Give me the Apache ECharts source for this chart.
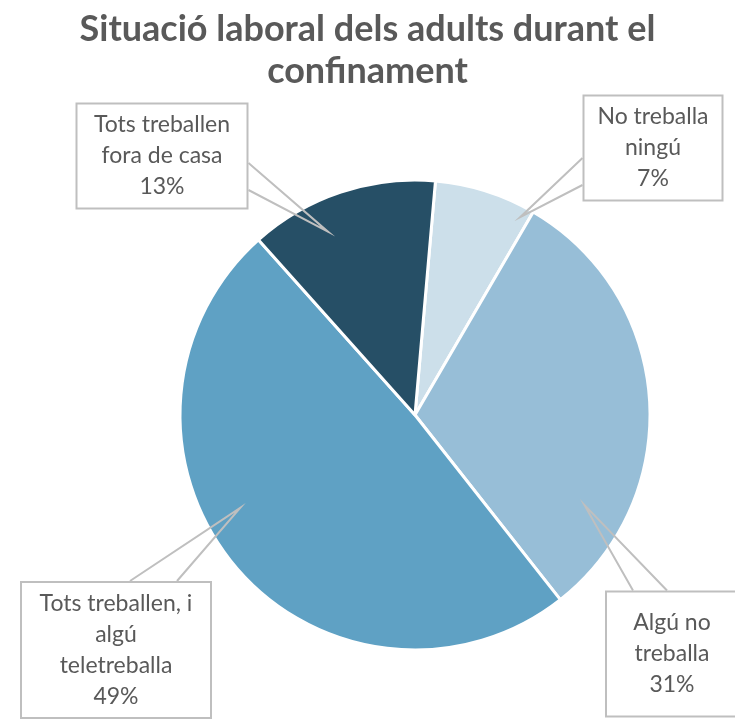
<!DOCTYPE html>
<html>
<head>
<meta charset="utf-8">
<script src="https://cdn.jsdelivr.net/npm/echarts@6/dist/echarts.min.js"></script>
<style>
  html, body { margin: 0; padding: 0; background: #fff; }
  #chart { width: 735px; height: 722px; }
</style>
</head>
<body>
<div id="chart"></div>
<script>
// data, clockwise from the top
const categories = ['No treballa\nningú', 'Algú no\ntreballa', 'Tots treballen, i\nalgú\nteletreballa', 'Tots treballen\nfora de casa'];
const values = [7, 31, 49, 13];
const colors = ['#CCDFEA', '#97BED7', '#5FA1C4', '#264F66'];

// callout boxes: centre, inner width, padding; wedge: side of the box, offsets along it, tip (angle from top, radius)
const boxes = [
  { x: 653, y: 148, w: 117, pad: [5, 10], side: 'left', a: 10, b: 37, ang: 28, r: 224 },
  { x: 672, y: 654, w: 110, pad: [22, 10, 8, 10], side: 'top', a: -39, b: -5, ang: 118, r: 192 },
  { x: 116, y: 650, w: 168, pad: [5, 10], side: 'top', a: 14, b: 61, ang: 242, r: 198 },
  { x: 162, y: 156, w: 149, pad: [5, 10], side: 'right', a: 7, b: 34, ang: 334.6, r: 203 }
];

const CENTER = [415, 415];
const START = 85;

function wedge(b, rect) {
  const hw = rect.width / 2, hh = rect.height / 2;
  let p1, p2;
  if (b.side === 'left') { p1 = [b.x - hw, b.y + b.a]; p2 = [b.x - hw, b.y + b.b]; }
  else if (b.side === 'right') { p1 = [b.x + hw, b.y + b.a]; p2 = [b.x + hw, b.y + b.b]; }
  else { p1 = [b.x + b.a, b.y - hh]; p2 = [b.x + b.b, b.y - hh]; }
  const t = b.ang * Math.PI / 180;
  const tip = [CENTER[0] + b.r * Math.sin(t), CENTER[1] - b.r * Math.cos(t)];
  return [p1, tip, p2];
}

const chart = echarts.init(document.getElementById('chart'));
chart.setOption({
  animation: false,
  title: {
    text: 'Situació laboral dels adults durant el\nconfinament',
    left: 'center',
    top: 3,
    textStyle: {
      fontFamily: 'Lato',
      fontSize: 36,
      fontWeight: 'bold',
      color: '#595959',
      lineHeight: 42
    }
  },
  series: [
    {
      type: 'pie',
      center: CENTER,
      radius: 235,
      startAngle: START,
      silent: true,
      itemStyle: { borderColor: '#fff', borderWidth: 3 },
      label: { show: false },
      labelLine: { show: false },
      data: categories.map((c, i) => ({ name: c, value: values[i], itemStyle: { color: colors[i] } }))
    },
    {
      // invisible copy that only carries the callouts
      type: 'pie',
      center: CENTER,
      radius: 205,
      startAngle: START,
      silent: true,
      z: 3,
      itemStyle: { color: 'rgba(0,0,0,0)' },
      label: {
        show: true,
        position: 'outside',
        fontFamily: 'Lato',
        fontSize: 23,
        lineHeight: 31,
        color: '#595959',
        align: 'center',
        backgroundColor: '#fff',
        borderColor: '#bfbfbf',
        borderWidth: 2,
        formatter: p => p.name + '\n' + p.value + '%'
      },
      labelLine: {
        show: true,
        length: 0,
        length2: 0,
        lineStyle: { color: '#bfbfbf', width: 2, join: 'miter' }
      },
      labelLayout: p => {
        const b = boxes[p.dataIndex];
        return {
          x: b.x, y: b.y, align: 'center', verticalAlign: 'middle', width: b.w,
          labelLinePoints: wedge(b, p.labelRect)
        };
      },
      data: categories.map((c, i) => ({
        name: c,
        value: values[i],
        label: { width: boxes[i].w, padding: boxes[i].pad }
      }))
    }
  ]
});
</script>
</body>
</html>
